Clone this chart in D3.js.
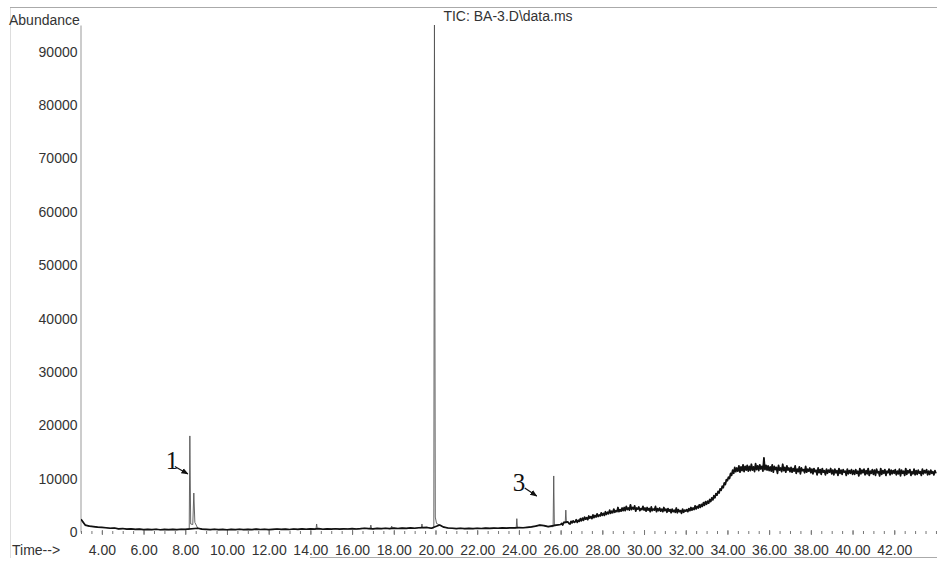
<!DOCTYPE html>
<html>
<head>
<meta charset="utf-8">
<script src="https://cdn.jsdelivr.net/npm/d3@7"></script>
<style>
  html, body { margin: 0; padding: 0; background: #fff; }
  svg { display: block; }
</style>
</head>
<body>
<svg id="chart" width="937" height="565"></svg>
<script>
// ---- DATA ----
const chartTitle = "TIC: BA-3.D\\data.ms";
const yLabel = "Abundance";
const xLabel = "Time-->";
const xTickLabels = [4, 6, 8, 10, 12, 14, 16, 18, 20, 22, 24, 26, 28, 30, 32, 34, 36, 38, 40, 42];
const yTickLabels = [0, 10000, 20000, 30000, 40000, 50000, 60000, 70000, 80000, 90000];

// baseline signal 3.0 -> 26.0 min, every 0.2 min
const earlyStart = 3.0, earlyStep = 0.2;
const earlySignal = [
  2400,1300,1100,1000,900,850,800,700,750,600,
  650,550,600,500,550,450,500,450,520,420,
  480,430,500,450,520,480,600,1400,700,550,
  500,450,520,430,480,420,500,450,520,440,
  500,460,540,470,520,450,500,560,480,530,
  470,560,500,580,520,600,550,620,520,600,
  540,610,530,600,560,640,560,620,700,650,
  600,680,620,700,640,720,660,740,680,760,
  700,800,750,850,700,700,1300,900,750,700,
  650,700,620,680,640,700,660,720,680,740,
  700,780,730,800,760,820,800,880,950,1100,
  1300,1200,1000,900,1300,1400
];
// noisy signal 26.05 -> 44.0 min, every 0.05 min
const lateStart = 26.05, lateStep = 0.05;
const lateSignal = [
  1600,1300,1800,1400,1700,1500,1900,1600,1500,2000,
  1700,2100,1800,1900,2300,1800,2200,2000,2500,2100,
  2600,2200,2800,2400,2700,2300,3000,2600,2900,2500,
  3200,2700,3100,2800,3400,2900,3200,3000,3600,3100,
  3500,3100,3800,3300,3700,3400,4100,3500,3900,3600,
  4300,3700,4000,3800,4600,3800,4200,3900,4500,4000,
  4600,4000,4800,4200,4500,4100,5100,4200,4600,4300,
  4900,3900,4500,4300,4700,4000,4400,4200,4800,4100,
  4500,3900,4600,4100,4400,3800,4700,4000,4300,4100,
  4800,3800,4400,4000,4500,3900,4300,3800,4600,4000,
  4300,3700,4400,3900,4200,3600,4300,3800,4100,3700,
  4500,3600,4200,3800,4000,3500,4300,3700,4100,3900,
  4200,3800,4400,4000,4600,4100,4500,4200,4900,4300,
  4800,4500,5100,4600,5200,4800,5500,5000,5700,5200,
  5800,5400,6100,5700,6400,6000,6800,6400,7200,6900,
  7600,7300,8100,7800,8600,8300,9200,8900,9800,9600,
  10300,10000,11000,10600,11600,11000,12100,11300,12000,11400,
  12400,11200,12200,11500,12600,11300,12300,11600,12500,11400,
  12300,11500,12700,11600,12200,11300,12800,11700,12400,11500,
  12600,11800,12300,11400,13900,11700,12500,11600,12400,11500,
  12200,11400,12600,11200,12300,11700,12100,11000,12500,11600,
  12000,11300,12700,11500,12100,11200,12400,11600,12000,11300,
  12100,11200,11900,11400,12400,11000,11800,11300,12200,10900,
  12000,11500,11700,11100,12300,11200,11800,11400,12000,11100,
  11800,10900,11900,11300,11600,10700,12000,11100,11700,10800,
  11900,11200,11500,10700,11800,11000,11600,11200,11900,10900,
  11600,10700,11800,11100,11500,10600,11900,11000,11600,10800,
  11700,11200,11400,10600,11800,10900,11500,11000,11700,10800,
  11500,10800,11700,11000,11400,10500,11900,10900,11600,11100,
  11800,10700,11500,10900,11900,10600,11400,11000,11700,10800,
  11600,10600,11800,11100,11300,10500,11900,10800,11500,11000,
  11700,10600,11400,11100,11800,10700,11600,10900,11500,11000,
  11700,10700,11400,10900,11800,10500,11600,11000,11400,10600,
  11900,10800,11500,11100,11700,10600,11300,10900,11800,10700,
  11500,10800,11600,11000,11300,10600,11800,10900,11500,11100,
  11700,10700,11400,10800,11600,11000,11300,10700,11500,11000
];
// sharp chromatographic peaks (time in min, abundance)
const peakTimes = [8.19, 8.22, 8.26, 8.36, 8.41, 8.46,
  14.27, 14.30, 14.33,
  16.87, 16.90, 16.93,
  17.87, 17.90, 17.93,
  19.32, 19.35, 19.38,
  19.92, 19.95, 19.99, 20.05,
  23.87, 23.90, 23.93,
  25.64, 25.67, 25.70,
  26.22, 26.25, 26.28];
const peakValues = [560, 18000, 1500, 1400, 7300, 1800,
  600, 1500, 620,
  700, 1300, 700,
  700, 1100, 720,
  780, 1500, 800,
  760, 96000, 2800, 1600,
  760, 2500, 800,
  1000, 10500, 1300,
  1600, 4100, 1700];

// annotations
const annoLabels = ["1", "3"];
const annoTimes = [8.22, 25.67];

// ---- BUILD POINTS ----
const basePts = earlySignal.map((v, i) => ({t: +(earlyStart + i * earlyStep).toFixed(2), v}))
  .concat(lateSignal.map((v, i) => ({t: +(lateStart + i * lateStep).toFixed(2), v})))
  .filter(p => !peakTimes.some(pt => Math.abs(pt - p.t) < 0.045));
const peakPts = peakTimes.map((t, i) => ({t, v: peakValues[i]}));
const points = basePts.concat(peakPts).sort((a, b) => a.t - b.t);

// ---- CHART ----
const SANS = "'Liberation Sans', Arial, sans-serif";
const SERIF = "'Liberation Serif', 'Times New Roman', serif";
const svg = d3.select("#chart");
const W = 937, H = 565;

const x = d3.scaleLinear().domain([3.0, 44.05]).range([81, 937]);
const y = d3.scaleLinear().domain([0, 95000]).range([532, 25]);

// frame lines (scan border)
svg.append("line").attr("x1", 10).attr("x2", W).attr("y1", 7.5).attr("y2", 7.5)
  .attr("stroke", "#aaa").attr("stroke-width", 1);
svg.append("line").attr("x1", 10.5).attr("x2", 10.5).attr("y1", 8).attr("y2", 558)
  .attr("stroke", "#ddd").attr("stroke-width", 1);
svg.append("line").attr("x1", 310).attr("x2", W).attr("y1", 557.5).attr("y2", 557.5)
  .attr("stroke", "#aaa").attr("stroke-width", 1);

// y axis
const yAxis = svg.append("g").attr("transform", "translate(80.5,0)")
  .call(d3.axisLeft(y).tickValues(yTickLabels).tickSize(0).tickPadding(3)
    .tickFormat(d3.format("d")));
yAxis.select(".domain").attr("stroke", "#999");
yAxis.selectAll("text").attr("font-size", 14).attr("fill", "#333").style("font-family", SANS);

// x axis minor ticks
const xMinor = svg.append("g").attr("transform", "translate(0,531)")
  .call(d3.axisBottom(x).tickValues(d3.range(3, 44.01, 0.5)).tickSize(3).tickFormat(""));
xMinor.select(".domain").remove();
xMinor.selectAll("line").attr("stroke", "#777");

// x axis major ticks + labels
const xAxis = svg.append("g").attr("transform", "translate(0,530)")
  .call(d3.axisBottom(x).tickValues(xTickLabels).tickSize(5).tickPadding(10)
    .tickFormat(d3.format(".2f")));
xAxis.select(".domain").remove();
xAxis.selectAll("line").attr("stroke", "#777");
xAxis.selectAll("text").attr("font-size", 14).attr("fill", "#333").style("font-family", SANS);

// labels
svg.append("text").attr("x", 9).attr("y", 25).attr("font-size", 14).attr("fill", "#333")
  .style("font-family", SANS).text(yLabel);
svg.append("text").attr("x", 12).attr("y", 555).attr("font-size", 14).attr("fill", "#333")
  .style("font-family", SANS).text(xLabel);
svg.append("text").attr("x", 508).attr("y", 21).attr("text-anchor", "middle")
  .attr("font-size", 14).attr("fill", "#333").style("font-family", SANS).text(chartTitle);

// clip
svg.append("clipPath").attr("id", "plotClip").append("rect")
  .attr("x", 81).attr("y", 25).attr("width", W - 81).attr("height", 515);

// trace: thin full trace (peaks), heavier baseline band on top
const line = d3.line().x(d => x(d.t)).y(d => y(d.v));
svg.append("path").datum(points)
  .attr("clip-path", "url(#plotClip)")
  .attr("d", line)
  .attr("fill", "none")
  .attr("stroke", "#555")
  .attr("stroke-width", 0.9)
  .attr("stroke-linejoin", "round");
svg.append("path").datum(basePts)
  .attr("clip-path", "url(#plotClip)")
  .attr("d", line)
  .attr("fill", "none")
  .attr("stroke", "#111")
  .attr("stroke-width", 1.7)
  .attr("stroke-linejoin", "round");

// annotations
const defs = svg.append("defs");
defs.append("marker").attr("id", "arrowHead").attr("viewBox", "0 0 10 10")
  .attr("refX", 9).attr("refY", 5).attr("markerWidth", 6).attr("markerHeight", 6)
  .attr("orient", "auto")
  .append("path").attr("d", "M0,1 L10,5 L0,9 Z").attr("fill", "#111");

const annoOffsets = [
  {tx: -24, ty: 469, ax1: -15, ay1: 466.5, ax2: -2, ay2: 474},
  {tx: -41, ty: 491, ax1: -29, ay1: 488, ax2: -17, ay2: 496}
];
annoLabels.forEach((lab, i) => {
  const px = x(annoTimes[i]);
  const o = annoOffsets[i];
  svg.append("text").attr("x", px + o.tx).attr("y", o.ty)
    .style("font-family", SERIF)
    .attr("font-size", 25).attr("fill", "#111").text(lab);
  svg.append("line").attr("x1", px + o.ax1).attr("y1", o.ay1)
    .attr("x2", px + o.ax2).attr("y2", o.ay2)
    .attr("stroke", "#111").attr("stroke-width", 1.2)
    .attr("marker-end", "url(#arrowHead)");
});
</script>
</body>
</html>
